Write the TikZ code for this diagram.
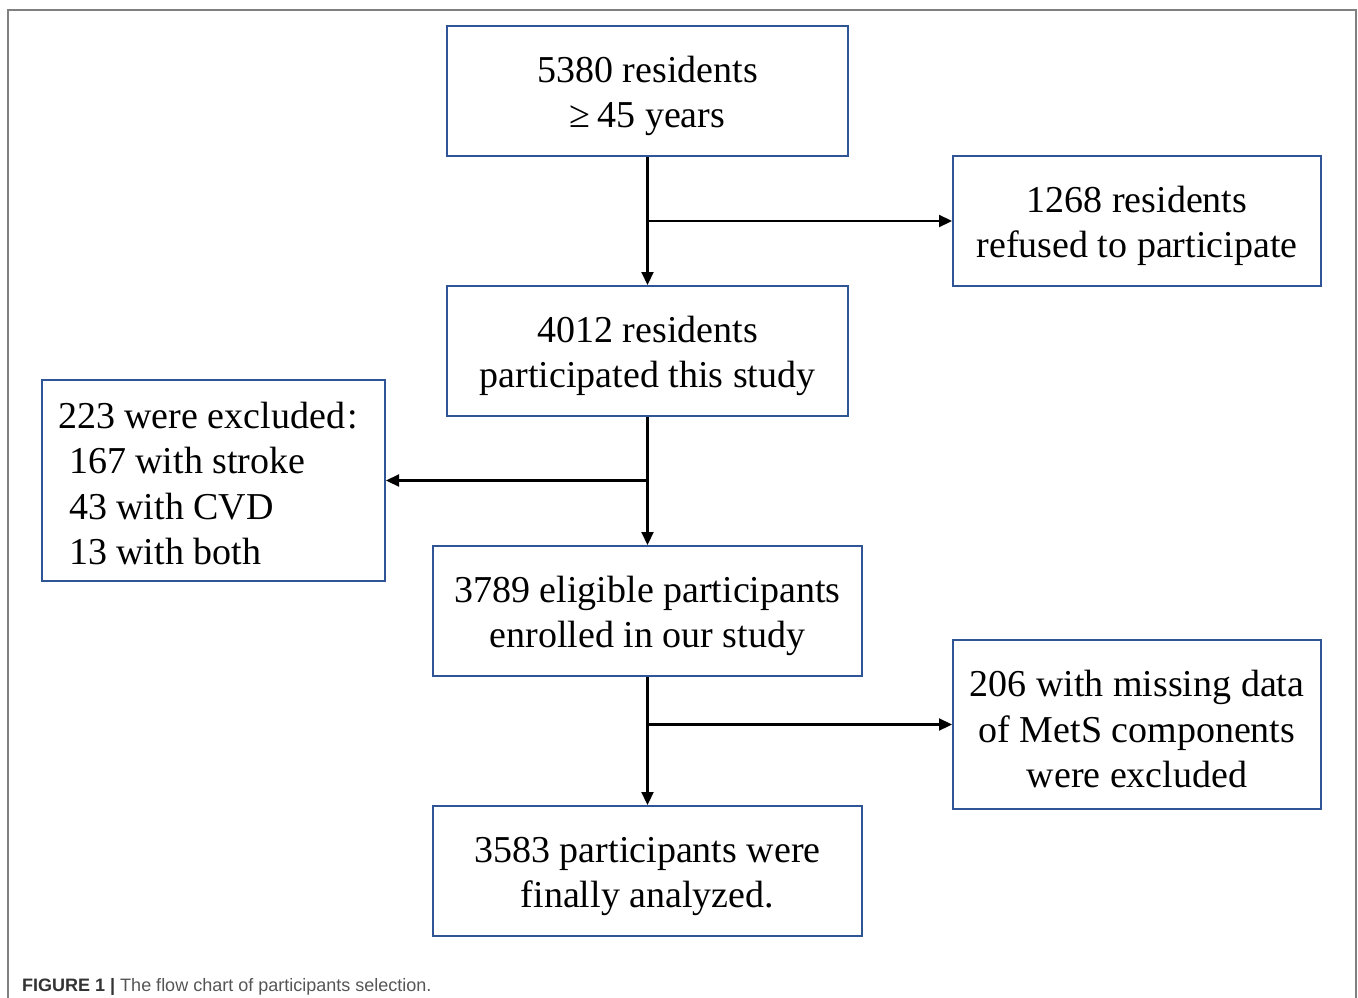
\documentclass[tikz,border=0pt]{standalone}
\usepackage{fontspec}
\setmainfont{Liberation Serif}
\newfontfamily\capfont{Liberation Sans}
\usetikzlibrary{arrows.meta}
\definecolor{boxblue}{HTML}{2F5597}
\definecolor{framegray}{HTML}{808080}
\definecolor{capgray}{HTML}{555555}
\newcommand\myts[1][36pt]{\rule{0pt}{#1}}
\begin{document}
\begin{tikzpicture}[x=1pt,y=-1pt,
  flowbox/.style={draw=boxblue,line width=2pt,rectangle,inner sep=0pt,align=center,
    font=\fontsize{38}{45.5}\selectfont},
  flowarrow/.style={line width=2.2pt,-{Triangle[length=13pt,width=12pt]}}]
\useasboundingbox (0,0) rectangle (1358,998);
\draw[framegray,line width=2pt] (8,998) -- (8,10) -- (1356,10) -- (1356,998);
\node[flowbox,minimum width=401pt,minimum height=130pt] (A) at (647.5,91) {\myts 5380 residents\\≥\hspace{7pt}45 years};
\node[flowbox,minimum width=368pt,minimum height=130pt] (B) at (1137,221) {\myts 1268 residents\\refused to participate};
\node[flowbox,minimum width=401pt,minimum height=130pt] (C) at (647.5,351) {\myts 4012 residents\\participated this study};
\node[flowbox,align=left,minimum width=343pt,minimum height=201pt] (D) at (213.5,480.5)
  {\myts[32pt]\makebox[311pt][l]{223 were excluded\hspace{3pt}:}\\\hspace*{11pt}167 with stroke\\\hspace*{11pt}43 with CVD\\\hspace*{11pt}13 with both};
\node[flowbox,minimum width=429pt,minimum height=130pt] (E) at (647.5,611) {\myts 3789 eligible participants\\enrolled in our study};
\node[flowbox,minimum width=368pt,minimum height=169pt] (F) at (1137,724.5) {\myts 206 with missing data\\of MetS components\\were excluded};
\node[flowbox,minimum width=429pt,minimum height=130pt] (G) at (647.5,871) {\myts 3583 participants were\\finally analyzed.};
\draw[flowarrow] (A.south) -- (C.north);
\draw[flowarrow] (A.south |- B.west) -- (B.west);
\draw[flowarrow] (C.south) -- (E.north);
\draw[flowarrow] (C.south |- D.east) -- (D.east);
\draw[flowarrow] (E.south) -- (G.north);
\draw[flowarrow] (E.south |- F.west) -- (F.west);
\node[anchor=base west,inner sep=0pt,font=\capfont\fontsize{18}{20}\selectfont,text=capgray] (cap) at (22,991)
  {{\bfseries\color{black!80}FIGURE 1 |} The flow chart of participants selection.};
\end{tikzpicture}
\end{document}
